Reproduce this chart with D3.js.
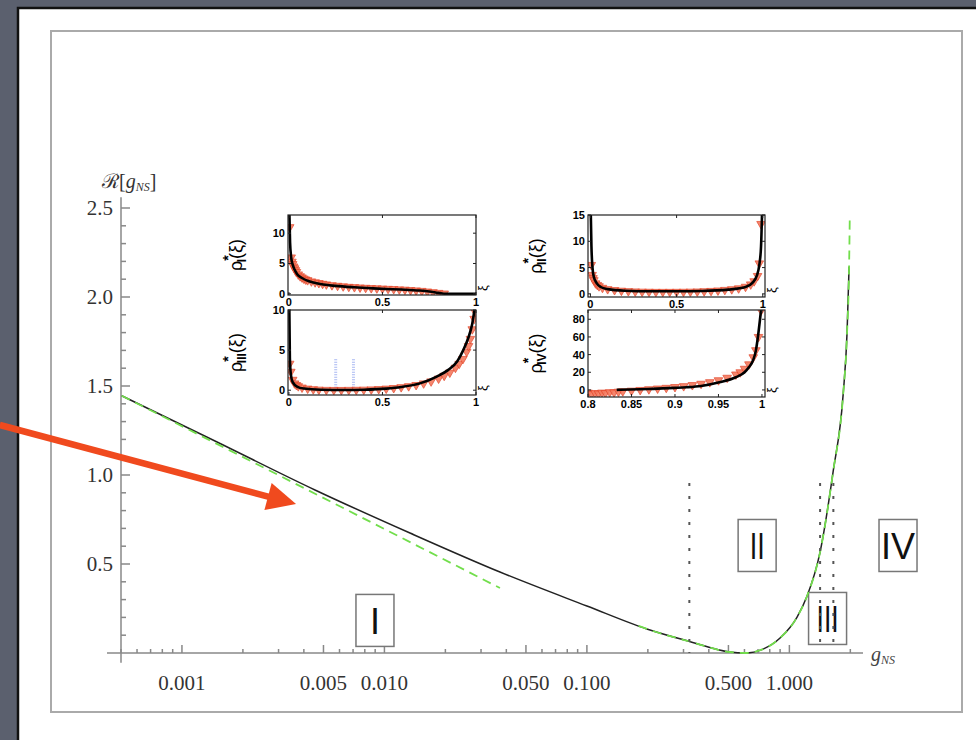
<!DOCTYPE html>
<html lang="en">
<head>
<meta charset="UTF-8">
<title>R[g_NS]</title>
<script src="https://d3js.org/d3.v7.min.js"></script>
<style>
    body { margin: 0; background: #5b606e; }
    svg { display: block; }
    .serif { font-family: "Liberation Serif", "DejaVu Serif", serif; }
    .sans { font-family: "Liberation Sans", Arial, sans-serif; }
</style>
</head>
<body>
<script>
const width = 976
const height = 740

// main curve R[g_NS] (black)
const curveG = [0.000504, 0.001456, 0.00454, 0.01337, 0.0372, 0.1, 0.1977, 0.3217, 0.507, 0.601, 0.7415, 0.8996, 1.0915, 1.223, 1.418, 1.644, 1.842, 1.927, 1.972]
const curveR = [1.4455, 1.191, 0.916, 0.674, 0.455, 0.264, 0.135, 0.0646, 0.0056, 0.0, 0.022, 0.084, 0.202, 0.32, 0.567, 1.017, 1.449, 1.80, 2.17]

// green dashed approximations
const greenLeftG = [0.000504, 0.0040, 0.0372]
const greenLeftR = [1.4455, 0.927, 0.365]
const greenRightG = [0.18, 0.1977, 0.3217, 0.507, 0.601, 0.7415, 0.8996, 1.0915, 1.223, 1.418, 1.644, 1.842, 1.927, 1.972, 1.988]
const greenRightR = [0.152, 0.135, 0.0646, 0.0056, 0.0, 0.022, 0.084, 0.202, 0.32, 0.567, 1.017, 1.449, 1.80, 2.17, 2.46]

// axes
const xMajor = [0.001, 0.005, 0.01, 0.05, 0.1, 0.5, 1]
const xMajorLabels = ['0.001', '0.005', '0.010', '0.050', '0.100', '0.500', '1.000']
const yMajor = [0.5, 1.0, 1.5, 2.0, 2.5]
const yMajorLabels = ['0.5', '1.0', '1.5', '2.0', '2.5']

// phase boundaries (dotted) and region boxes
const boundaryG = [0.3206, 1.418, 1.649]
const boundaryBottom = [0, 0.045, 0.045]
const boundaryTop = 0.955
const regionNames = ['I', 'II', 'III', 'IV']
const regionG = [0.00898, 0.693, 1.544, 3.44]
const regionR = [0.183, 0.604, 0.194, 0.604]

// annotation arrow (data units)
const arrowFrom = [0.000126, 1.281]
const arrowTo = [0.00366, 0.837]

// inset I
const rhoIXi = [0.002, 0.006, 0.012, 0.02, 0.03, 0.045, 0.07, 0.1, 0.17, 0.25, 0.35, 0.45, 0.52, 0.6, 0.7, 0.75, 0.8, 0.84, 1]
const rhoIVal = [14, 8.5, 6, 4.8, 4, 3.2, 2.6, 2.15, 1.6, 1.3, 1.07, 0.9, 0.8, 0.7, 0.53, 0.38, 0.15, 0, 0]
const markIXi = [0.004, 0.012, 0.016, 0.02, 0.025, 0.03, 0.035, 0.04, 0.05, 0.06, 0.07, 0.08, 0.09, 0.1, 0.12, 0.14, 0.16, 0.18, 0.2, 0.23, 0.26, 0.29, 0.32, 0.35, 0.38, 0.41, 0.44, 0.47, 0.5, 0.53, 0.56, 0.59, 0.62, 0.65, 0.68, 0.71, 0.74, 0.77, 0.8, 0.83]
const markIVal = [11, 6, 5.3, 4.9, 4.5, 4.2, 3.9, 3.6, 3.2, 2.9, 2.7, 2.5, 2.35, 2.25, 2.05, 1.9, 1.78, 1.65, 1.55, 1.42, 1.32, 1.23, 1.15, 1.1, 1.04, 0.99, 0.94, 0.9, 0.86, 0.82, 0.78, 0.73, 0.68, 0.62, 0.56, 0.48, 0.38, 0.27, 0.15, 0.05]

// inset II
const rhoIIXi = [0.002, 0.006, 0.012, 0.02, 0.035, 0.06, 0.1, 0.2, 0.35, 0.5, 0.65, 0.8, 0.9, 0.94, 0.965, 0.98, 0.99, 0.996]
const rhoIIVal = [15.5, 9, 5, 3.2, 2.1, 1.3, 0.9, 0.6, 0.5, 0.5, 0.55, 0.8, 1.3, 2.1, 3.4, 5.5, 9, 15.5]
const markIIXi = [0.005, 0.01, 0.015, 0.02, 0.03, 0.04, 0.05, 0.07, 0.1, 0.14, 0.18, 0.22, 0.26, 0.3, 0.34, 0.38, 0.42, 0.46, 0.5, 0.54, 0.58, 0.62, 0.66, 0.7, 0.74, 0.78, 0.82, 0.86, 0.9, 0.93, 0.95, 0.97, 0.98, 0.99]
const markIIVal = [5.5, 3.6, 3.0, 2.6, 2.0, 1.7, 1.45, 1.15, 0.9, 0.72, 0.6, 0.52, 0.46, 0.42, 0.4, 0.38, 0.38, 0.38, 0.39, 0.4, 0.42, 0.45, 0.5, 0.56, 0.64, 0.75, 0.88, 1.05, 1.35, 1.8, 2.4, 3.4, 5.8, 13.3]

// inset III
const rhoIIIXi = [0.002, 0.005, 0.01, 0.02, 0.045, 0.08, 0.17, 0.3, 0.4, 0.52, 0.6, 0.7, 0.79, 0.85, 0.9, 0.93, 0.96, 0.98, 0.995]
const rhoIIIVal = [10.5, 4, 2, 1, 0.42, 0.2, 0.05, 0.02, 0.06, 0.2, 0.4, 0.85, 1.7, 2.5, 3.6, 4.9, 6.6, 8.3, 10.5]
const markIIIXi = [0.004, 0.01, 0.02, 0.03, 0.04, 0.05, 0.07, 0.1, 0.13, 0.16, 0.2, 0.24, 0.28, 0.32, 0.36, 0.4, 0.44, 0.48, 0.52, 0.56, 0.6, 0.64, 0.68, 0.72, 0.76, 0.8, 0.83, 0.86, 0.89, 0.91, 0.93, 0.95, 0.96, 0.97, 0.98, 0.99, 0.995]
const markIIIVal = [3.3, 2.3, 1.3, 0.85, 0.65, 0.5, 0.33, 0.2, 0.12, 0.07, 0.04, 0.03, 0.03, 0.04, 0.05, 0.07, 0.1, 0.14, 0.2, 0.27, 0.38, 0.5, 0.65, 0.85, 1.1, 1.45, 1.8, 2.2, 2.8, 3.3, 3.9, 4.8, 5.5, 6.4, 7.6, 8.9, 9.8]
const blueXi = [0.25, 0.345]
const blueRange = [0.3, 4.0]

// inset IV
const rhoIVXi = [0.833, 0.86, 0.875, 0.9, 0.913, 0.93, 0.951, 0.97, 0.98, 0.985, 0.99, 0.993, 0.996, 0.998, 0.9995]
const rhoIVVal = [0.1, 0.8, 1.2, 2.3, 3, 4.5, 8.7, 14.4, 20, 25.6, 34, 44.5, 65, 82, 95]
const markIVXi = [0.8, 0.804, 0.808, 0.812, 0.816, 0.82, 0.825, 0.83, 0.835, 0.84, 0.85, 0.86, 0.87, 0.88, 0.89, 0.9, 0.91, 0.92, 0.93, 0.94, 0.95, 0.96, 0.97, 0.975, 0.98, 0.985, 0.99, 0.993, 0.996, 0.999]
const markIVVal = [-3, -4.5, -3.5, -4, -3, -3.5, -2.5, -2.8, -2, -1.5, -0.8, 0, 0.8, 1.6, 2.4, 3.3, 4.3, 5.5, 7, 8.8, 11, 13.8, 17.5, 20, 24, 29, 37, 45, 60, 90]

const svg = d3.select('body').append('svg')
    .attr('width', width)
    .attr('height', height)

// slide background
svg.append('rect').attr('width', width).attr('height', height).attr('fill', '#5b606e')
svg.append('rect').attr('x', 19).attr('y', 9).attr('width', width).attr('height', height).attr('fill', '#fff')
svg.append('path').attr('d', `M18,${height} V8 H${width}`)
    .attr('fill', 'none').attr('stroke', '#111').attr('stroke-width', 2.5)
svg.append('rect').attr('x', 51).attr('y', 31).attr('width', 911).attr('height', 681)
    .attr('fill', 'none').attr('stroke', '#aaa').attr('stroke-width', 2)

// main scales
const x = d3.scaleLog().domain([0.0005, 2.31]).range([121, 863])
const y = d3.scaleLinear().domain([0, 2.5]).range([653, 208])

const axis = svg.append('g').attr('stroke', '#888').attr('stroke-width', 1.5)
axis.append('line').attr('x1', 107).attr('x2', 863).attr('y1', y(0)).attr('y2', y(0))
axis.append('line').attr('x1', x(0.0005)).attr('x2', x(0.0005)).attr('y1', y(2.56)).attr('y2', y(-0.055))

const xMinor = x.ticks().filter(t => !xMajor.some(m => Math.abs(m - t) < 1e-9))
axis.selectAll('.xmin').data(xMinor).enter().append('line')
    .attr('x1', d => x(d)).attr('x2', d => x(d)).attr('y1', y(0)).attr('y2', y(0) - 4)
axis.selectAll('.xmaj').data(xMajor).enter().append('line')
    .attr('x1', d => x(d)).attr('x2', d => x(d)).attr('y1', y(0)).attr('y2', y(0) - 8)
const yMinor = y.ticks(25).filter(t => t > 0 && Math.abs(t * 2 - Math.round(t * 2)) > 1e-6)
axis.selectAll('.ymin').data(yMinor).enter().append('line')
    .attr('x1', x(0.0005)).attr('x2', x(0.0005) + 5).attr('y1', d => y(d)).attr('y2', d => y(d))
axis.selectAll('.ymaj').data(yMajor).enter().append('line')
    .attr('x1', x(0.0005)).attr('x2', x(0.0005) + 9).attr('y1', d => y(d)).attr('y2', d => y(d))

svg.selectAll('.xlab').data(xMajor).enter().append('text')
    .attr('class', 'serif')
    .attr('x', d => x(d)).attr('y', 690)
    .attr('text-anchor', 'middle').attr('font-size', 21).attr('fill', '#333')
    .text((d, i) => xMajorLabels[i])
svg.selectAll('.ylab').data(yMajor).enter().append('text')
    .attr('class', 'serif')
    .attr('x', 113).attr('y', d => y(d) + 7)
    .attr('text-anchor', 'end').attr('font-size', 21).attr('fill', '#333')
    .text((d, i) => yMajorLabels[i])

// axis titles
const yTitle = svg.append('text').attr('class', 'serif').attr('x', 102).attr('y', 188)
    .attr('font-size', 20).attr('fill', '#333')
yTitle.append('tspan').text('ℛ')
yTitle.append('tspan').text('[')
yTitle.append('tspan').attr('font-style', 'italic').text('g')
yTitle.append('tspan').attr('font-style', 'italic').attr('font-size', 12).attr('dy', 3).text('NS')
yTitle.append('tspan').attr('dy', -3).text(']')

const xTitle = svg.append('text').attr('class', 'serif').attr('x', 871).attr('y', 661)
    .attr('font-size', 20).attr('fill', '#444').attr('font-style', 'italic')
xTitle.append('tspan').text('g')
xTitle.append('tspan').attr('font-size', 12).attr('dy', 3).text('NS')

// region boxes
const boxes = svg.selectAll('.region').data(regionNames).enter().append('g')
    .attr('transform', (d, i) => `translate(${x(regionG[i])},${y(regionR[i])})`)
boxes.append('rect').attr('x', -19).attr('y', -26).attr('width', 38).attr('height', 52)
    .attr('fill', '#fff').attr('stroke', '#777').attr('stroke-width', 1.5)
boxes.append('text').attr('class', 'sans')
    .attr('y', 14).attr('text-anchor', 'middle').attr('font-size', 36).attr('fill', '#111')
    .each(function (d) {
        const t = d3.select(this)
        if (d === 'II') t.attr('textLength', 15).attr('lengthAdjust', 'spacingAndGlyphs')
        if (d === 'III') t.attr('textLength', 22).attr('lengthAdjust', 'spacingAndGlyphs')
    })
    .text(d => d)

// curves
const mainLine = d3.line().x(d => x(d[0])).y(d => y(d[1])).curve(d3.curveMonotoneX)
svg.append('path').datum(d3.zip(curveG, curveR)).attr('d', mainLine)
    .attr('fill', 'none').attr('stroke', '#222').attr('stroke-width', 1.5)
svg.append('path').datum(d3.zip(greenLeftG, greenLeftR)).attr('d', mainLine)
    .attr('fill', 'none').attr('stroke', '#72de4c').attr('stroke-width', 1.8).attr('stroke-dasharray', '9,6')
svg.append('path').datum(d3.zip(greenRightG, greenRightR)).attr('d', mainLine)
    .attr('fill', 'none').attr('stroke', '#72de4c').attr('stroke-width', 1.8).attr('stroke-dasharray', '9,6')

// phase boundaries
svg.selectAll('.bound').data(boundaryG).enter().append('line')
    .attr('x1', d => x(d)).attr('x2', d => x(d))
    .attr('y1', y(boundaryTop)).attr('y2', (d, i) => y(boundaryBottom[i]))
    .attr('stroke', '#555').attr('stroke-width', 2).attr('stroke-dasharray', '3,10')

// insets
const insets = [
    { sub: 'I', left: 288, top: 215, right: 476, bottom: 295, xDom: [-0.005, 1.0], yDom: [-0.2, 13],
      xt: [0, 0.5, 1], xtl: ['0', '0.5', '1'], yt: [0, 5, 10],
      lx: rhoIXi, ly: rhoIVal, mx: markIXi, my: markIVal },
    { sub: 'II', left: 588, top: 215, right: 765, bottom: 297, xDom: [-0.014, 1.013], yDom: [-0.6, 15],
      xt: [0, 0.5, 1], xtl: ['0', '0.5', '1'], yt: [0, 5, 10, 15],
      lx: rhoIIXi, ly: rhoIIVal, mx: markIIXi, my: markIIVal },
    { sub: 'III', left: 288, top: 310, right: 476, bottom: 395, xDom: [-0.005, 1.0], yDom: [-0.6, 10],
      xt: [0, 0.5, 1], xtl: ['0', '0.5', '1'], yt: [0, 5, 10],
      lx: rhoIIIXi, ly: rhoIIIVal, mx: markIIIXi, my: markIIIVal, blue: true },
    { sub: 'IV', left: 588, top: 310, right: 765, bottom: 397, xDom: [0.8, 1.0035], yDom: [-8, 90.5],
      xt: [0.8, 0.85, 0.9, 0.95, 1], xtl: ['0.8', '0.85', '0.9', '0.95', '1'], yt: [0, 20, 40, 60, 80],
      lx: rhoIVXi, ly: rhoIVVal, mx: markIVXi, my: markIVVal }
]

const tri = d3.symbol().type(d3.symbolTriangle).size(32)

insets.forEach((c, k) => {
    const xs = d3.scaleLinear().domain(c.xDom).range([c.left, c.right])
    const ys = d3.scaleLinear().domain(c.yDom).range([c.bottom, c.top])
    const g = svg.append('g').attr('class', 'inset')
    const clipId = 'clip' + k
    svg.append('clipPath').attr('id', clipId).append('rect')
        .attr('x', c.left).attr('y', c.top).attr('width', c.right - c.left).attr('height', c.bottom - c.top)
    const plot = g.append('g').attr('clip-path', `url(#${clipId})`)

    if (c.blue) {
        plot.selectAll('.blue').data(blueXi).enter().append('line')
            .attr('x1', d => xs(d)).attr('x2', d => xs(d))
            .attr('y1', ys(blueRange[0])).attr('y2', ys(blueRange[1]))
            .attr('stroke', '#a9b8f2').attr('stroke-width', 3).attr('stroke-dasharray', '1,1.5')
    }

    plot.selectAll('.mk').data(d3.zip(c.mx, c.my)).enter().append('path')
        .attr('d', tri)
        .attr('transform', d => `translate(${xs(d[0])},${ys(d[1])}) rotate(180)`)
        .attr('fill', '#f47a5e').attr('stroke', '#e3452a').attr('stroke-width', 0.8).attr('opacity', 0.9)

    const ln = d3.line().x(d => xs(d[0])).y(d => ys(d[1])).curve(d3.curveMonotoneX)
    plot.append('path').datum(d3.zip(c.lx, c.ly)).attr('d', ln)
        .attr('fill', 'none').attr('stroke', '#000').attr('stroke-width', 2.6)

    g.append('rect').attr('x', c.left).attr('y', c.top)
        .attr('width', c.right - c.left).attr('height', c.bottom - c.top)
        .attr('fill', 'none').attr('stroke', '#222').attr('stroke-width', 1.2)

    const tk = g.append('g').attr('stroke', '#222').attr('stroke-width', 1)
    tk.selectAll('.xb').data(c.xt).enter().append('line')
        .attr('x1', d => xs(d)).attr('x2', d => xs(d)).attr('y1', c.bottom).attr('y2', c.bottom - 3)
    tk.selectAll('.xt').data(c.xt).enter().append('line')
        .attr('x1', d => xs(d)).attr('x2', d => xs(d)).attr('y1', c.top).attr('y2', c.top + 3)
    tk.selectAll('.yl').data(c.yt).enter().append('line')
        .attr('x1', c.left).attr('x2', c.left + 3).attr('y1', d => ys(d)).attr('y2', d => ys(d))
    tk.selectAll('.yr').data(c.yt).enter().append('line')
        .attr('x1', c.right).attr('x2', c.right - 3).attr('y1', d => ys(d)).attr('y2', d => ys(d))

    g.selectAll('.xl').data(c.xt).enter().append('text')
        .attr('class', 'sans').attr('font-size', 11).attr('font-weight', 'bold')
        .attr('x', d => xs(d)).attr('y', c.bottom + 11).attr('text-anchor', 'middle')
        .text((d, i) => c.xtl[i])
    g.selectAll('.ylb').data(c.yt).enter().append('text')
        .attr('class', 'sans').attr('font-size', 11).attr('font-weight', 'bold')
        .attr('x', c.left - 3).attr('y', d => ys(d) + 4).attr('text-anchor', 'end')
        .text(d => d)

    const cy = (c.top + c.bottom) / 2
    const lab = g.append('text').attr('class', 'sans')
        .attr('transform', `translate(${c.left - 46},${cy}) rotate(-90)`)
        .attr('text-anchor', 'middle').attr('font-size', 18)
    lab.append('tspan').text('ρ')
    lab.append('tspan').attr('font-size', 14).attr('font-weight', 'bold').attr('dy', -9).text('*')
    lab.append('tspan').attr('font-size', 12).attr('font-weight', 'bold').attr('dx', -7).attr('dy', 13).text(c.sub)
    lab.append('tspan').attr('dy', -4).text('(ξ)')

    g.append('text').attr('class', 'sans').attr('font-size', 13)
        .attr('transform', `translate(${c.right + 11},${c.bottom - 7}) rotate(-90)`)
        .attr('text-anchor', 'middle').text('ξ')
})

// arrow
const ax0 = x(arrowFrom[0]), ay0 = y(arrowFrom[1])
const ax1 = x(arrowTo[0]), ay1 = y(arrowTo[1])
const len = Math.hypot(ax1 - ax0, ay1 - ay0)
const ux = (ax1 - ax0) / len, uy = (ay1 - ay0) / len
const headL = 29, headW = 14
const bx = ax1 - ux * headL, by = ay1 - uy * headL
svg.append('line').attr('x1', ax0).attr('y1', ay0).attr('x2', bx + ux * 2).attr('y2', by + uy * 2)
    .attr('stroke', '#f04a1e').attr('stroke-width', 6.5)
svg.append('path')
    .attr('d', `M${ax1},${ay1} L${bx - uy * headW},${by + ux * headW} L${bx + uy * headW},${by - ux * headW} Z`)
    .attr('fill', '#f04a1e')
</script>
</body>
</html>
